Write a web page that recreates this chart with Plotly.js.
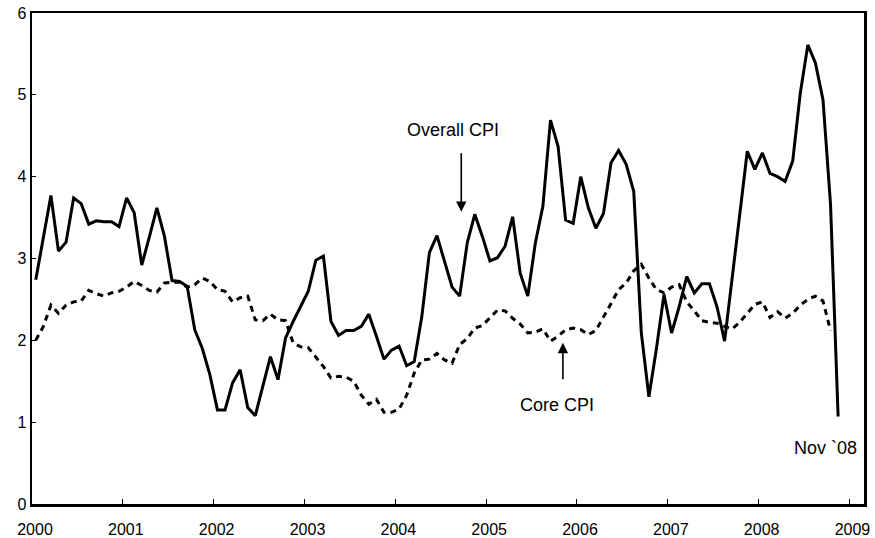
<!DOCTYPE html>
<html>
<head>
<meta charset="utf-8">
<script src="https://cdn.plot.ly/plotly-3.0.1.min.js"></script>
<style>html,body{margin:0;padding:0;background:#fff;}#chart{width:875px;height:538px;}</style>
</head>
<body>
<div id="chart"></div>
<script>
// Monthly data, Jan 2000 onward
var startYear = 2000;
var yearTicks = [2000, 2001, 2002, 2003, 2004, 2005, 2006, 2007, 2008, 2009];
var yTicks = [0, 1, 2, 3, 4, 5, 6];

// Overall CPI, Jan 2000 - Nov 2008
var overallCPI = [
  2.74, 3.25, 3.77, 3.09, 3.20, 3.74, 3.67, 3.42, 3.46, 3.45, 3.45, 3.39,
  3.74, 3.56, 2.92, 3.26, 3.62, 3.27, 2.73, 2.72, 2.66, 2.13, 1.90, 1.58,
  1.15, 1.15, 1.48, 1.64, 1.18, 1.08, 1.44, 1.80, 1.52, 2.03, 2.23, 2.41,
  2.60, 2.98, 3.03, 2.23, 2.06, 2.12, 2.12, 2.17, 2.32, 2.05, 1.77, 1.88,
  1.93, 1.69, 1.74, 2.29, 3.07, 3.28, 2.98, 2.65, 2.54, 3.19, 3.54, 3.27,
  2.97, 3.01, 3.15, 3.51, 2.82, 2.54, 3.19, 3.64, 4.69, 4.37, 3.47, 3.43,
  4.00, 3.62, 3.37, 3.55, 4.17, 4.32, 4.15, 3.82, 2.09, 1.31, 1.90, 2.56,
  2.09, 2.41, 2.78, 2.58, 2.69, 2.69, 2.41, 1.99, 2.76, 3.54, 4.31, 4.09,
  4.29, 4.04, 4.00, 3.94, 4.19, 5.02, 5.61, 5.39, 4.94, 3.66, 1.07
];

// Core CPI, Jan 2000 - Oct 2008
var coreCPI = [
  2.00, 2.17, 2.43, 2.33, 2.43, 2.47, 2.48, 2.61, 2.57, 2.54, 2.58, 2.60,
  2.65, 2.72, 2.67, 2.61, 2.59, 2.70, 2.71, 2.71, 2.65, 2.68, 2.76, 2.72,
  2.62, 2.60, 2.47, 2.52, 2.54, 2.25, 2.24, 2.32, 2.25, 2.24, 1.97, 1.92,
  1.91, 1.80, 1.68, 1.54, 1.56, 1.55, 1.50, 1.33, 1.22, 1.28, 1.12, 1.12,
  1.16, 1.33, 1.60, 1.76, 1.77, 1.84, 1.76, 1.72, 1.95, 2.02, 2.15, 2.18,
  2.27, 2.37, 2.36, 2.27, 2.20, 2.09, 2.10, 2.14, 1.99, 2.05, 2.13, 2.15,
  2.13, 2.07, 2.12, 2.28, 2.45, 2.62, 2.70, 2.85, 2.93, 2.76, 2.62, 2.58,
  2.65, 2.68, 2.47, 2.36, 2.24, 2.22, 2.21, 2.17, 2.14, 2.22, 2.33, 2.44,
  2.47, 2.28, 2.35, 2.27, 2.33, 2.43, 2.50, 2.54, 2.48, 2.12
];

function monthX(n) {
  var xs = [];
  for (var i = 0; i < n; i++) xs.push(startYear + (i + 0.5) / 12);
  return xs;
}

var font = {family: 'Liberation Sans, Arial, sans-serif', size: 16, color: '#000'};
var noteFont = {family: 'Liberation Sans, Arial, sans-serif', size: 18, color: '#000'};

var traces = [
  {
    x: monthX(overallCPI.length), y: overallCPI, type: 'scatter', mode: 'lines',
    name: 'Overall CPI', line: {color: '#000', width: 3}, hoverinfo: 'x+y'
  },
  {
    x: monthX(coreCPI.length), y: coreCPI, type: 'scatter', mode: 'lines',
    name: 'Core CPI', line: {color: '#000', width: 3, dash: '6px,5px'}, hoverinfo: 'x+y'
  }
];

var layout = {
  width: 875, height: 538,
  margin: {l: 32, r: 11, t: 13, b: 34, pad: 0},
  paper_bgcolor: '#fff', plot_bgcolor: '#fff',
  showlegend: false,
  font: font,
  xaxis: {
    range: [2000, 2009.16], tickmode: 'array', tickvals: yearTicks,
    ticktext: yearTicks.map(String),
    ticks: 'inside', ticklen: 5, tickwidth: 1, tickcolor: '#000',
    showline: true, mirror: true, linecolor: '#000', linewidth: 2.5,
    showgrid: false, zeroline: false, ticklabelshift: 3, ticklabelstandoff: 9,
    tickfont: font, fixedrange: true
  },
  yaxis: {
    range: [0, 6], tickmode: 'array', tickvals: yTicks,
    ticks: 'inside', ticklen: 4, tickwidth: 1, tickcolor: '#000',
    showline: true, mirror: true, linecolor: '#000', linewidth: 2.5,
    showgrid: false, zeroline: false, tickfont: font, fixedrange: true
  },
  annotations: [
    {x: 2004.638, y: 4.575, xref: 'x', yref: 'y', text: 'Overall CPI', showarrow: false, font: noteFont},
    {x: 2004.726, y: 3.57, xref: 'x', yref: 'y', text: '', showarrow: true,
     ax: 0, ay: -60, arrowhead: 2, arrowsize: 1.3, arrowwidth: 1.6, arrowcolor: '#000'},
    {x: 2005.78, y: 1.21, xref: 'x', yref: 'y', text: 'Core CPI', showarrow: false, font: noteFont},
    {x: 2005.845, y: 1.97, xref: 'x', yref: 'y', text: '', showarrow: true,
     ax: 0, ay: 38, arrowhead: 2, arrowsize: 1.3, arrowwidth: 1.6, arrowcolor: '#000'},
    {x: 2008.733, y: 0.68, xref: 'x', yref: 'y', text: 'Nov `08', showarrow: false, font: noteFont}
  ]
};

Plotly.newPlot('chart', traces, layout, {displayModeBar: false, staticPlot: true});
</script>
</body>
</html>
